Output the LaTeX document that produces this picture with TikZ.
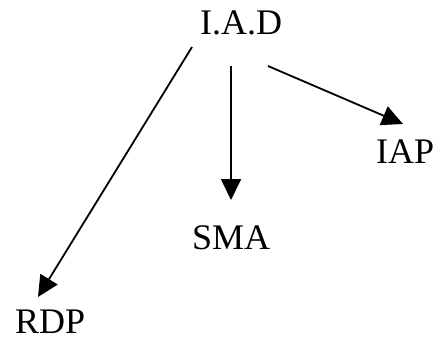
\documentclass[tikz,border=0pt]{standalone}
\usepackage{fontspec}
\setmainfont{Liberation Serif}
\usetikzlibrary{arrows.meta}
\tikzset{
  lbl/.style={inner sep=0pt, anchor=base west, font=\fontsize{36}{40}\selectfont},
  arr/.style={line width=1.8pt, -{Triangle[length=21pt,width=20pt]}},
}
\begin{document}
\begin{tikzpicture}[x=1pt,y=-1pt]
  \useasboundingbox (0,0) rectangle (435,338);
  % labels
  \node[lbl] (iad) at (200,34) {I.A.D};
  \node[lbl] (iap) at (376,163) {IAP};
  \node[lbl] (sma) at (192,249) {SMA};
  \node[lbl] (rdp) at (15,333) {RDP};
  % connectors
  \draw[arr] ([shift={(-8,13)}]iad.base west) -- ([shift={(23,-36)}]rdp.base west);
  \draw[arr] ([shift={(31,32)}]iad.base west) -- ([shift={(39,-49)}]sma.base west);
  \draw[arr] ([shift={(68,32)}]iad.base west) -- ([shift={(27,-39)}]iap.base west);
\end{tikzpicture}
\end{document}
